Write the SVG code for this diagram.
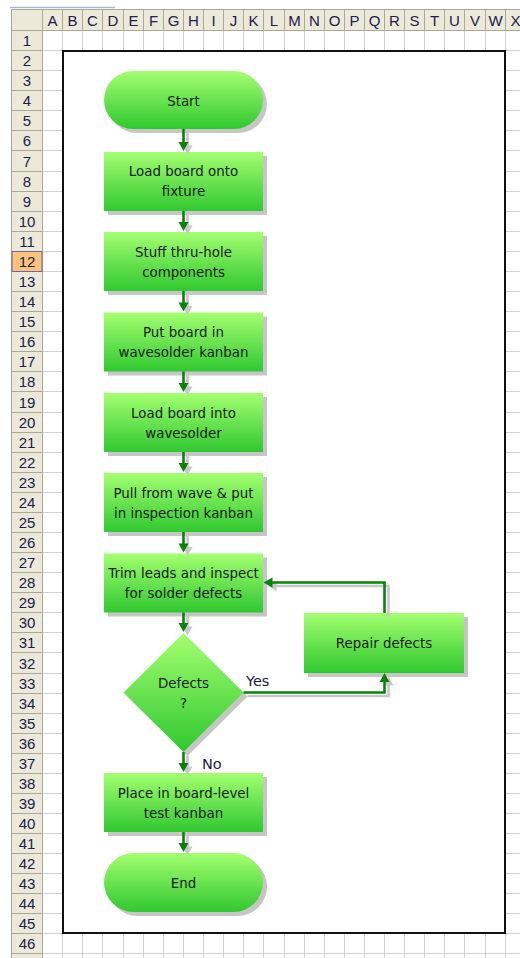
<svg xmlns="http://www.w3.org/2000/svg" xmlns:xlink="http://www.w3.org/1999/xlink" width="520" height="958" viewBox="0 0 520 958">
<style>
.grid{stroke:#d0d0d0;stroke-width:1;fill:none}
.hdr{fill:#ece9d8}
.hline{stroke:#aca899;stroke-width:1;fill:none}
.htxt{font-family:"Liberation Sans",Arial,sans-serif;font-size:15px;fill:#202050;text-anchor:middle}
.shape{fill:url(#g)}
.shadow{fill:#c6c6c6}
.t{font-family:"DejaVu Sans",Verdana,sans-serif;font-size:13.4px;fill:#1a1a1a;text-anchor:middle}
.lbl{font-family:"DejaVu Sans",Verdana,sans-serif;font-size:14.5px;fill:#1a1a40}
.ln{stroke:#0a820a;stroke-width:2.6;fill:none}
.lns{stroke:#c8c8c8;stroke-width:2.6;fill:none}
.ah{fill:#0a820a}
.ahs{fill:#c8c8c8}
</style>
<defs>
<linearGradient id="g" x1="0" y1="0" x2="0" y2="1">
<stop offset="0" stop-color="#a4ff70"/>
<stop offset="1" stop-color="#30c830"/>
</linearGradient>
<path id="down" d="M-5,-9 L5,-9 L0,0 Z"/>
</defs>
<rect width="520" height="958" fill="#ffffff"/>
<!-- grid -->
<path class="grid" d="M62.5,30V958M82.5,30V958M102.5,30V958M123.5,30V958M143.5,30V958M163.5,30V958M183.5,30V958M203.5,30V958M223.5,30V958M243.5,30V958M263.5,30V958M284.5,30V958M304.5,30V958M324.5,30V958M344.5,30V958M364.5,30V958M384.5,30V958M404.5,30V958M424.5,30V958M444.5,30V958M464.5,30V958M485.5,30V958M505.5,30V958
M42,50.5H520M42,70.5H520M42,90.5H520M42,110.5H520M42,130.5H520M42,150.5H520M42,171.5H520M42,191.5H520M42,211.5H520M42,231.5H520M42,251.5H520M42,271.5H520M42,291.5H520M42,311.5H520M42,331.5H520M42,351.5H520M42,371.5H520M42,391.5H520M42,412.5H520M42,432.5H520M42,452.5H520M42,472.5H520M42,492.5H520M42,512.5H520M42,532.5H520M42,552.5H520M42,572.5H520M42,592.5H520M42,612.5H520M42,632.5H520M42,652.5H520M42,673.5H520M42,693.5H520M42,713.5H520M42,733.5H520M42,753.5H520M42,773.5H520M42,793.5H520M42,813.5H520M42,833.5H520M42,853.5H520M42,873.5H520M42,893.5H520M42,913.5H520M42,933.5H520M42,953.5H520"/>
<!-- column header -->
<g id="colhdr">
<line x1="10" y1="7.5" x2="115" y2="7.5" stroke="#a3b8dc" stroke-width="1.5"/>
<rect class="hdr" x="11" y="9" width="509" height="21.5"/>
<path class="hline" d="M11,9.5H520M11,30.5H520M11.5,9V958M42.5,9V958M62.5,9V30M82.5,9V30M102.5,9V30M123.5,9V30M143.5,9V30M163.5,9V30M183.5,9V30M203.5,9V30M223.5,9V30M243.5,9V30M263.5,9V30M284.5,9V30M304.5,9V30M324.5,9V30M344.5,9V30M364.5,9V30M384.5,9V30M404.5,9V30M424.5,9V30M444.5,9V30M464.5,9V30M485.5,9V30M505.5,9V30"/>
<g class="htxt">
<text x="52.5" y="25.5">A</text><text x="72.5" y="25.5">B</text><text x="92.5" y="25.5">C</text><text x="113" y="25.5">D</text><text x="133.5" y="25.5">E</text><text x="153.5" y="25.5">F</text><text x="173.5" y="25.5">G</text><text x="193.5" y="25.5">H</text><text x="213.5" y="25.5">I</text><text x="233.5" y="25.5">J</text><text x="253.5" y="25.5">K</text><text x="274" y="25.5">L</text><text x="294.5" y="25.5">M</text><text x="314.5" y="25.5">N</text><text x="334.5" y="25.5">O</text><text x="354.5" y="25.5">P</text><text x="374.5" y="25.5">Q</text><text x="394.5" y="25.5">R</text><text x="414.5" y="25.5">S</text><text x="434.5" y="25.5">T</text><text x="454.5" y="25.5">U</text><text x="475" y="25.5">V</text><text x="495.5" y="25.5">W</text><text x="515.5" y="25.5">X</text>
</g>
</g>
<!-- row header -->
<g id="rowhdr">
<rect class="hdr" x="12" y="31" width="30" height="927"/>
<rect x="12" y="251.5" width="30" height="20" fill="#fdc27b" stroke="#6a6aa8" stroke-width="1"/>
<path class="hline" d="M11,50.5H42M11,70.5H42M11,90.5H42M11,110.5H42M11,130.5H42M11,150.5H42M11,171.5H42M11,191.5H42M11,211.5H42M11,231.5H42M11,291.5H42M11,311.5H42M11,331.5H42M11,351.5H42M11,371.5H42M11,391.5H42M11,412.5H42M11,432.5H42M11,452.5H42M11,472.5H42M11,492.5H42M11,512.5H42M11,532.5H42M11,552.5H42M11,572.5H42M11,592.5H42M11,612.5H42M11,632.5H42M11,652.5H42M11,673.5H42M11,693.5H42M11,713.5H42M11,733.5H42M11,753.5H42M11,773.5H42M11,793.5H42M11,813.5H42M11,833.5H42M11,853.5H42M11,873.5H42M11,893.5H42M11,913.5H42M11,933.5H42M11,953.5H42"/>
<g class="htxt">
<text x="27" y="46">1</text><text x="27" y="66">2</text><text x="27" y="86">3</text><text x="27" y="106">4</text><text x="27" y="126">5</text><text x="27" y="146">6</text><text x="27" y="166.5">7</text><text x="27" y="187">8</text><text x="27" y="207">9</text><text x="27" y="227">10</text><text x="27" y="247">11</text><text x="27" y="267">12</text><text x="27" y="287">13</text><text x="27" y="307">14</text><text x="27" y="327">15</text><text x="27" y="347">16</text><text x="27" y="367">17</text><text x="27" y="387">18</text><text x="27" y="407.5">19</text><text x="27" y="428">20</text><text x="27" y="448">21</text><text x="27" y="468">22</text><text x="27" y="488">23</text><text x="27" y="508">24</text><text x="27" y="528">25</text><text x="27" y="548">26</text><text x="27" y="568">27</text><text x="27" y="588">28</text><text x="27" y="608">29</text><text x="27" y="628">30</text><text x="27" y="648">31</text><text x="27" y="668.5">32</text><text x="27" y="689">33</text><text x="27" y="709">34</text><text x="27" y="729">35</text><text x="27" y="749">36</text><text x="27" y="769">37</text><text x="27" y="789">38</text><text x="27" y="809">39</text><text x="27" y="829">40</text><text x="27" y="849">41</text><text x="27" y="869">42</text><text x="27" y="889">43</text><text x="27" y="909">44</text><text x="27" y="929">45</text><text x="27" y="949">46</text>
</g>
</g>
<!-- frame -->
<rect id="frame" x="63" y="51" width="442" height="882" fill="#ffffff" stroke="#111111" stroke-width="2"/>
<!-- nodes -->
<g id="start">
<rect class="shadow" x="108" y="75" width="159" height="58" rx="29"/>
<rect class="shape" x="104" y="71" width="159" height="58" rx="29"/>
<text class="t" x="183.5" y="105.5">Start</text>
</g>
<g id="load">
<rect class="shadow" x="108" y="156" width="159" height="59"/>
<rect class="shape" x="104" y="152" width="159" height="59"/>
<text class="t" x="183.5" y="176">Load board onto</text>
<text class="t" x="183.5" y="196">fixture</text>
</g>
<g id="stuff">
<rect class="shadow" x="108" y="236" width="159" height="59"/>
<rect class="shape" x="104" y="232" width="159" height="59"/>
<text class="t" x="183.5" y="256.5">Stuff thru-hole</text>
<text class="t" x="183.5" y="276.5">components</text>
</g>
<g id="put">
<rect class="shadow" x="108" y="316.5" width="159" height="59"/>
<rect class="shape" x="104" y="312.5" width="159" height="59"/>
<text class="t" x="183.5" y="337">Put board in</text>
<text class="t" x="183.5" y="357">wavesolder kanban</text>
</g>
<g id="loadwave">
<rect class="shadow" x="108" y="397" width="159" height="59"/>
<rect class="shape" x="104" y="393" width="159" height="59"/>
<text class="t" x="183.5" y="417.5">Load board into</text>
<text class="t" x="183.5" y="437.5">wavesolder</text>
</g>
<g id="pull">
<rect class="shadow" x="108" y="477" width="159" height="59"/>
<rect class="shape" x="104" y="473" width="159" height="59"/>
<text class="t" x="183.5" y="497.5">Pull from wave &amp; put</text>
<text class="t" x="183.5" y="517.5">in inspection kanban</text>
</g>
<g id="trim">
<rect class="shadow" x="108" y="557.5" width="159" height="59"/>
<rect class="shape" x="104" y="553.5" width="159" height="59"/>
<text class="t" x="183.5" y="577.5">Trim leads and inspect</text>
<text class="t" x="183.5" y="597.5">for solder defects</text>
</g>
<g id="defects">
<path class="shadow" d="M187.5,637 L247.5,696.5 L187.5,756 L127.5,696.5 Z"/>
<path class="shape" d="M183.5,633 L243.5,692.5 L183.5,752 L123.5,692.5 Z"/>
<text class="t" x="183.5" y="687.5">Defects</text>
<text class="t" x="183.5" y="707.5">?</text>
</g>
<g id="repair">
<rect class="shadow" x="308" y="617" width="160" height="60"/>
<rect class="shape" x="304" y="613" width="160" height="60"/>
<text class="t" x="384" y="647.5">Repair defects</text>
</g>
<g id="place">
<rect class="shadow" x="108" y="777" width="159" height="59"/>
<rect class="shape" x="104" y="773" width="159" height="59"/>
<text class="t" x="183.5" y="797.5">Place in board-level</text>
<text class="t" x="183.5" y="817.5">test kanban</text>
</g>
<g id="end">
<rect class="shadow" x="108" y="857" width="159" height="59" rx="29.5"/>
<rect class="shape" x="104" y="853" width="159" height="59" rx="29.5"/>
<text class="t" x="183.5" y="888">End</text>
</g>
<!-- connectors -->
<g id="connectors">
<g transform="translate(4,3.5)">
<path class="lns" d="M183.5,129V143M183.5,211V223M183.5,291V303.5M183.5,371.5V384M183.5,452V464M183.5,532V544.5M183.5,612.5V624M183.5,752V764M183.5,832V844M243.5,692.5H384.5V681M384.5,613V582.5H272"/>
<use xlink:href="#down" class="ahs" transform="translate(183.5,151)"/>
<use xlink:href="#down" class="ahs" transform="translate(183.5,231)"/>
<use xlink:href="#down" class="ahs" transform="translate(183.5,311.5)"/>
<use xlink:href="#down" class="ahs" transform="translate(183.5,392)"/>
<use xlink:href="#down" class="ahs" transform="translate(183.5,472)"/>
<use xlink:href="#down" class="ahs" transform="translate(183.5,552.5)"/>
<use xlink:href="#down" class="ahs" transform="translate(183.5,632)"/>
<use xlink:href="#down" class="ahs" transform="translate(183.5,772)"/>
<use xlink:href="#down" class="ahs" transform="translate(183.5,852)"/>
<use xlink:href="#down" class="ahs" transform="translate(384.5,673) rotate(180)"/>
<use xlink:href="#down" class="ahs" transform="translate(263.5,582.5) rotate(90)"/>
</g>
<path class="ln" d="M183.5,129V143M183.5,211V223M183.5,291V303.5M183.5,371.5V384M183.5,452V464M183.5,532V544.5M183.5,612.5V624M183.5,752V764M183.5,832V844M243.5,692.5H384.5V681M384.5,613V582.5H272"/>
<use xlink:href="#down" class="ah" transform="translate(183.5,151)"/>
<use xlink:href="#down" class="ah" transform="translate(183.5,231)"/>
<use xlink:href="#down" class="ah" transform="translate(183.5,311.5)"/>
<use xlink:href="#down" class="ah" transform="translate(183.5,392)"/>
<use xlink:href="#down" class="ah" transform="translate(183.5,472)"/>
<use xlink:href="#down" class="ah" transform="translate(183.5,552.5)"/>
<use xlink:href="#down" class="ah" transform="translate(183.5,632)"/>
<use xlink:href="#down" class="ah" transform="translate(183.5,772)"/>
<use xlink:href="#down" class="ah" transform="translate(183.5,852)"/>
<use xlink:href="#down" class="ah" transform="translate(384.5,673) rotate(180)"/>
<use xlink:href="#down" class="ah" transform="translate(263.5,582.5) rotate(90)"/>
<text class="lbl" x="246" y="686">Yes</text>
<text class="lbl" x="202" y="769">No</text>
</g>
</svg>
